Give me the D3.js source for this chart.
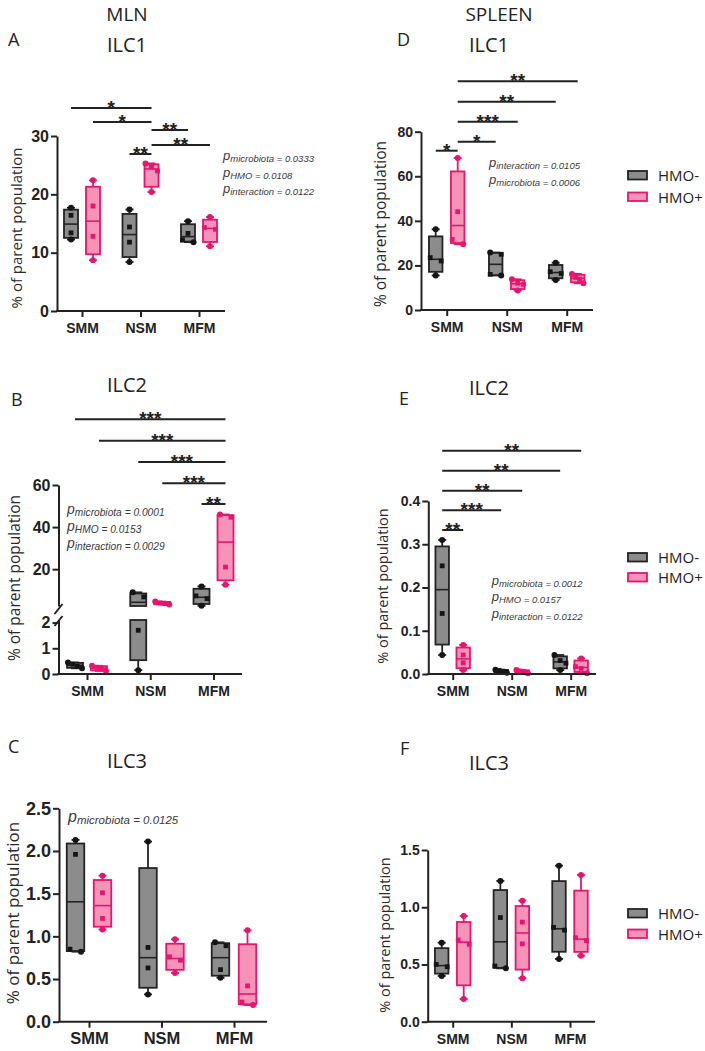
<!DOCTYPE html>
<html><head><meta charset="utf-8">
<script src="https://cdn.jsdelivr.net/npm/d3@7"></script>
<style>html,body{margin:0;padding:0;background:#fff;}svg{display:block;}</style>
</head><body>
<script>
// ---------- DATA ----------
const categories = ["SMM", "NSM", "MFM"];
const groups = ["HMO-", "HMO+"];
// each array: [SMM HMO-, SMM HMO+, NSM HMO-, NSM HMO+, MFM HMO-, MFM HMO+], 4 mice each
const mlnILC1 = [[12.25,13.4,16.4,17.7],[8.7,12.8,18.0,22.4],[8.4,11.8,14.4,17.4],[20.4,24.0,24.7,25.3],[11.8,12.2,13.3,15.4],[11.1,14.0,14.3,16.1]];
const mlnILC2 = [[0.22,0.3,0.38,0.45],[0.12,0.2,0.26,0.32],[0.15,1.7,6.8,9.0],[3.2,3.6,4.0,4.6],[2.6,6.0,7.3,11.8],[12.6,21.0,44.7,46.0]];
const mlnILC3 = [[0.82,0.85,1.96,2.13],[1.08,1.21,1.51,1.71],[0.32,0.63,0.87,2.11],[0.57,0.72,0.76,0.965],[0.515,0.61,0.89,0.93],[0.195,0.23,0.42,1.07]];
const splILC1 = [[15.5,22.0,23.5,36.2],[29.5,31.7,44.1,68.2],[15.5,16.0,25.0,25.8],[8.7,11.5,12.0,13.8],[13.5,16.4,17.2,21.2],[12.0,13.8,14.6,16.2]];
const splILC2 = [[0.044,0.14,0.25,0.31],[0.009,0.026,0.044,0.067],[0.003,0.006,0.008,0.01],[0.002,0.005,0.007,0.009],[0.009,0.025,0.031,0.044],[0.002,0.013,0.017,0.036]];
const splILC3 = [[0.40,0.48,0.50,0.69],[0.198,0.676,0.714,0.923],[0.466,0.486,0.91,1.23],[0.38,0.68,0.87,1.057],[0.548,0.80,0.824,1.363],[0.577,0.708,0.734,1.282]];

const ticksA = [0, 10, 20, 30];
const ticksBlow = [0, 1, 2];
const ticksBup = [20, 40, 60];
const ticksC = [0, 0.5, 1, 1.5, 2, 2.5];
const ticksD = [0, 20, 40, 60, 80];
const ticksE = [0, 0.1, 0.2, 0.3, 0.4];
const ticksF = [0, 0.5, 1, 1.5];

// significance: [group index from, group index to, label]
const sigA = [[0,3,"*"],[1,3,"*"],[3,4,"**"],[3,5,"**"],[2,3,"**"]];
const sigB = [[0,5,"***"],[1,5,"***"],[2,5,"***"],[3,5,"***"],[4,5,"**"]];
const sigD = [[1,5,"**"],[1,4,"**"],[1,3,"***"],[1,2,"*"],[0,1,"*"]];
const sigE = [[0,5,"**"],[0,4,"**"],[0,3,"**"],[0,2,"***"],[0,1,"**"]];

// two-way ANOVA p values
const pA = [["microbiota","0.0333"],["HMO","0.0108"],["interaction","0.0122"]];
const pB = [["microbiota","0.0001"],["HMO","0.0153"],["interaction","0.0029"]];
const pC = [["microbiota","0.0125"]];
const pD = [["interaction","0.0105"],["microbiota","0.0006"]];
const pE = [["microbiota","0.0012"],["HMO","0.0157"],["interaction","0.0122"]];

// ---------- DRAWING ----------
const W = 705, H = 1051;
const svg = d3.select("body").append("svg").attr("width", W).attr("height", H);
svg.append("rect").attr("width", W).attr("height", H).attr("fill", "#fff");

const STY = [
  {fill: "#8c8c8c", stroke: "#232323", pt: "#151515"},
  {fill: "#f593b8", stroke: "#e5166f", pt: "#e5166f"}
];
const INK = "#222";
const TITLE_FONT = "'Open Sans', 'DejaVu Sans', sans-serif";
const NUM_FONT = "'Liberation Sans', Arial, sans-serif";

function quant(s, p) {
  const n = s.length, pos = p * (n + 1);
  if (pos <= 1) return s[0];
  if (pos >= n) return s[n - 1];
  const lo = Math.floor(pos);
  return s[lo - 1] + (pos - lo) * (s[lo] - s[lo - 1]);
}

function txt(g, x, y, s, fs, opts = {}) {
  return g.append("text").attr("x", x).attr("y", y).text(s)
    .attr("font-family", opts.family || TITLE_FONT)
    .attr("font-size", fs)
    .attr("font-weight", opts.weight || 400)
    .attr("text-anchor", opts.anchor || "start")
    .attr("fill", opts.fill || INK);
}

function drawPanel(cfg) {
  const g = svg.append("g");
  const x = d3.scalePoint().domain(categories).range(cfg.xc);
  const gx = i => x(categories[Math.floor(i / 2)]) + (i % 2 ? cfg.off : -cfg.off);
  const yBase = cfg.segs[0].range[0];
  const bw = cfg.bw;

  const stats = cfg.data.map(v => {
    const s = v.slice().sort((a, b) => a - b);
    return {s, min: s[0], max: s[s.length - 1], q1: quant(s, 0.25), med: quant(s, 0.5), q3: quant(s, 0.75)};
  });

  cfg.segs.forEach(sg => {
    const y = d3.scaleLinear().domain(sg.domain).range(sg.range);
    const [d0, d1] = sg.domain;
    const inD = v => v >= d0 - 1e-9 && v <= d1 + 1e-9;

    // y axis
    const ya = g.append("g").attr("transform", `translate(${cfg.ax},0)`)
      .call(d3.axisLeft(y).tickValues(sg.ticks).tickSize(6).tickSizeOuter(0).tickPadding(2).tickFormat(cfg.fmt));
    ya.selectAll("path,line").attr("stroke", INK).attr("stroke-width", 2);
    ya.selectAll("text").attr("font-family", NUM_FONT).attr("font-weight", 700)
      .attr("font-size", cfg.tf).attr("fill", INK);

    stats.forEach((st, i) => {
      const c = STY[i % 2];
      const cx = gx(i);
      // whiskers
      [[st.q3, st.max], [st.min, st.q1]].forEach(([a, b]) => {
        const lo = Math.max(a, d0), hi = Math.min(b, d1);
        if (hi > lo) g.append("line").attr("x1", cx).attr("x2", cx)
          .attr("y1", y(lo)).attr("y2", y(hi)).attr("stroke", c.stroke).attr("stroke-width", 1.8);
      });
      // caps
      [st.min, st.max].forEach(v => {
        if (inD(v)) g.append("line").attr("x1", cx - 4).attr("x2", cx + 4)
          .attr("y1", y(v)).attr("y2", y(v)).attr("stroke", c.stroke).attr("stroke-width", 1.8);
      });
      // box
      const lo = Math.max(st.q1, d0), hi = Math.min(st.q3, d1);
      if (hi > lo) {
        g.append("rect").attr("x", cx - bw / 2).attr("width", bw)
          .attr("y", y(hi)).attr("height", Math.max(0.5, y(lo) - y(hi)))
          .attr("fill", c.fill).attr("stroke", c.stroke).attr("stroke-width", 1.8);
      }
      if (inD(st.med)) g.append("line").attr("x1", cx - bw / 2).attr("x2", cx + bw / 2)
        .attr("y1", y(st.med)).attr("y2", y(st.med)).attr("stroke", c.stroke).attr("stroke-width", 1.6);

      // points (spread when overlapping)
      const pts = st.s.map((v, k) => ({v, k, py: y(v)})).filter(p => inD(p.v));
      pts.sort((a, b) => a.py - b.py);
      const clusters = [];
      pts.forEach(p => {
        const last = clusters[clusters.length - 1];
        if (last && Math.abs(p.py - last[last.length - 1].py) < 6) last.push(p); else clusters.push([p]);
      });
      clusters.forEach(cl2 => {
        const k = cl2.length;
        const s = Math.min((k - 1) * 5.5, bw / 2 - 1);
        cl2.forEach((p, j) => {
          const dx = k === 1 ? 0 : -s + (2 * s) * j / (k - 1);
          const circle = p.k === 0 || p.k === st.s.length - 1;
          if (circle) g.append("circle").attr("cx", cx + dx).attr("cy", p.py).attr("r", 3).attr("fill", c.pt);
          else g.append("rect").attr("x", cx + dx - 2.4).attr("y", p.py - 2.4).attr("width", 4.8).attr("height", 4.8).attr("fill", c.pt);
        });
      });
    });
  });

  // axis break marks
  if (cfg.segs.length > 1) {
    const yl = cfg.segs[0].range[1], yu = cfg.segs[1].range[0];
    [yl, yu].forEach((yy, k) => {
      const c = k === 0 ? yy + 1 : yy + 3;
      g.append("line").attr("x1", cfg.ax - 4).attr("x2", cfg.ax + 4)
        .attr("y1", c + 5).attr("y2", c - 5).attr("stroke", INK).attr("stroke-width", 2);
    });
  }

  // x axis
  g.append("line").attr("x1", cfg.ax - 1).attr("x2", cfg.xEnd).attr("y1", yBase).attr("y2", yBase)
    .attr("stroke", INK).attr("stroke-width", 2);
  const xa = g.append("g").attr("transform", `translate(0,${yBase})`)
    .call(d3.axisBottom(x).tickSize(6).tickSizeOuter(0).tickPadding(cfg.catPad));
  xa.select(".domain").remove();
  xa.selectAll("line").attr("stroke", INK).attr("stroke-width", 2);
  xa.selectAll("text").attr("font-family", NUM_FONT).attr("font-weight", 700)
    .attr("font-size", cfg.cf).attr("fill", INK);

  // y title
  txt(g, 0, 0, "% of parent population", cfg.yt.fs, {anchor: "middle", fill: "#2a2a2a"})
    .attr("transform", `translate(${cfg.yt.x},${cfg.yt.y}) rotate(-90)`);

  // significance bars
  (cfg.sig || []).forEach((sgn, i) => {
    const x1 = gx(sgn[0]), x2 = gx(sgn[1]), yy = cfg.sigY[i];
    g.append("line").attr("x1", x1).attr("x2", x2).attr("y1", yy).attr("y2", yy)
      .attr("stroke", INK).attr("stroke-width", 2);
    txt(g, (x1 + x2) / 2, yy + 6, sgn[2], 19, {family: NUM_FONT, weight: 700, anchor: "middle"});
  });

  // p values
  (cfg.p || []).forEach((pp, i) => {
    const t = g.append("text").attr("x", cfg.px).attr("y", cfg.py[i])
      .attr("font-family", NUM_FONT).attr("font-style", "italic").attr("fill", "#3a3a3a");
    t.append("tspan").attr("font-size", cfg.pfs[0]).text("p");
    t.append("tspan").attr("font-size", cfg.pfs[1]).attr("dy", 2).text(pp[0]);
    t.append("tspan").attr("font-size", cfg.pfs[1]).text(" = " + pp[1]);
  });

  // titles
  txt(g, cfg.title[1], cfg.title[2], cfg.title[0], 20, {anchor: "middle"});
  txt(g, cfg.letter[1], cfg.letter[2], cfg.letter[0], 18);

  // legend
  if (cfg.legend) {
    groups.forEach((gname, k) => {
      const yy = cfg.legend[k];
      g.append("rect").attr("x", 628).attr("y", yy).attr("width", 19).attr("height", 8.5)
        .attr("fill", STY[k].fill).attr("stroke", STY[k].stroke).attr("stroke-width", 1.8);
      txt(g, 658, yy + 10, gname, 15);
    });
  }
}

const fmtInt = d3.format("d"), fmt1 = d3.format(".1f");

drawPanel({data: mlnILC1, xc: [82, 199], ax: 57, xEnd: 225, off: 11, bw: 14,
  segs: [{domain: [0, 30], range: [311, 136], ticks: ticksA}], fmt: fmtInt, tf: 16, cf: 14, catPad: 6,
  yt: {x: 21.5, y: 228, fs: 15}, sig: sigA, sigY: [108, 122, 130, 145, 154],
  p: pA, px: 223, py: [160, 177, 193], pfs: [13, 9.5],
  title: ["ILC1", 127, 52], letter: ["A", 8, 46]});

drawPanel({data: mlnILC2, xc: [87, 213.5], ax: 58.5, xEnd: 242, off: 12, bw: 16,
  segs: [{domain: [0, 2.1], range: [674, 620], ticks: ticksBlow}, {domain: [2.5, 60], range: [606, 485], ticks: ticksBup}],
  fmt: fmtInt, tf: 16, cf: 14, catPad: 6,
  yt: {x: 20, y: 578, fs: 15.5}, sig: sigB, sigY: [419.3, 440.7, 462, 483.3, 504],
  p: pB, px: 67, py: [514, 531, 548], pfs: [14, 10.2],
  title: ["ILC2", 127, 392], letter: ["B", 11, 406]});

drawPanel({data: mlnILC3, xc: [89, 234], ax: 59, xEnd: 267, off: 13.5, bw: 17.5,
  segs: [{domain: [0, 2.5], range: [1021.7, 808.3], ticks: ticksC}], fmt: fmt1, tf: 18, cf: 16.5, catPad: 5,
  yt: {x: 18.5, y: 913, fs: 17},
  p: pC, px: 68, py: [822], pfs: [16, 11.5],
  title: ["ILC3", 127, 768], letter: ["C", 8, 753]});

drawPanel({data: splILC1, xc: [446.7, 566.7], ax: 421, xEnd: 593, off: 11, bw: 13.5,
  segs: [{domain: [0, 80], range: [310, 131.7], ticks: ticksD}], fmt: fmtInt, tf: 14, cf: 14, catPad: 6,
  yt: {x: 386, y: 224, fs: 15.5}, sig: sigD, sigY: [81.3, 101.7, 121.7, 141.7, 150.7],
  p: pD, px: 489, py: [167, 184], pfs: [13, 9.5],
  title: ["ILC1", 489, 52], letter: ["D", 397, 46], legend: [171, 192.5]});

drawPanel({data: splILC2, xc: [452.7, 570.7], ax: 428.3, xEnd: 596, off: 10.5, bw: 13.5,
  segs: [{domain: [0, 0.4], range: [674, 501], ticks: ticksE}], fmt: fmt1, tf: 14, cf: 14, catPad: 6,
  yt: {x: 388, y: 586, fs: 14.5}, sig: sigE, sigY: [450.7, 470.7, 490.7, 510.3, 530],
  p: pE, px: 491.7, py: [585, 601, 618], pfs: [13, 9.5],
  title: ["ILC2", 489, 395], letter: ["E", 399, 405], legend: [553, 573]});

drawPanel({data: splILC3, xc: [452.7, 570], ax: 427.7, xEnd: 595, off: 11, bw: 13.5,
  segs: [{domain: [0, 1.5], range: [1021.7, 850], ticks: ticksF}], fmt: fmt1, tf: 14, cf: 14, catPad: 6,
  yt: {x: 389.5, y: 935, fs: 14.5},
  title: ["ILC3", 489, 770], letter: ["F", 400, 755], legend: [909, 929.5]});

// column headers
txt(svg, 127, 21, "MLN", 19, {anchor: "middle"});
txt(svg, 499, 21, "SPLEEN", 19, {anchor: "middle"});
</script>
</body></html>
